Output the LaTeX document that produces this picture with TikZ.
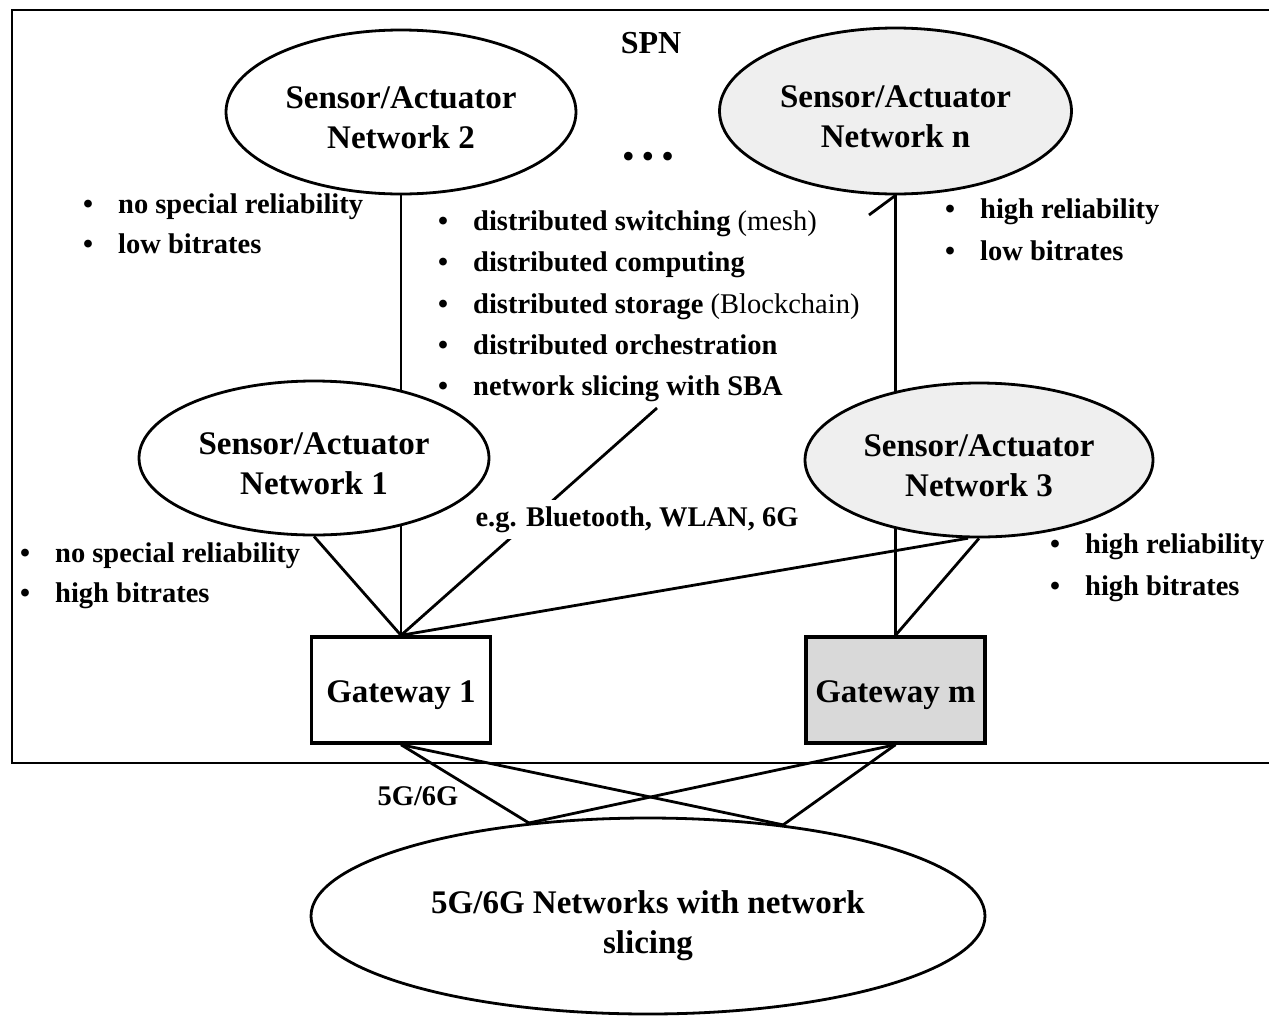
\documentclass[tikz,border=0pt]{standalone}
\usepackage{fontspec}
\setmainfont{Liberation Serif}
\usetikzlibrary{shapes.geometric,backgrounds}

\definecolor{netgray}{HTML}{EFEFEF}
\definecolor{gwgray}{HTML}{D9D9D9}
% bullet followed by a fixed indent
\newcommand\bul{\makebox[35pt][l]{•}}
% invisible strut that lowers a node's text a little
\newcommand\lowr[1]{\rule{0pt}{#1}}

\begin{document}
\begin{tikzpicture}[x=1pt,y=-1pt,
  net/.style={ellipse,draw,line width=2.8pt,inner sep=0pt,align=center,
    font=\fontsize{33}{40}\selectfont\bfseries},
  gw/.style={rectangle,draw,line width=3.4pt,minimum width=179pt,minimum height=106pt,
    inner sep=0pt,font=\fontsize{33}{40}\selectfont\bfseries},
  lbl/.style={anchor=base,inner sep=0pt,font=\fontsize{28.5}{41}\selectfont\bfseries},
  item/.style={anchor=base west,inner sep=0pt,font=\fontsize{28.5}{41}\selectfont\bfseries},
  link/.style={line width=2.8pt},
  frame/.style={line width=2.4pt}]

\useasboundingbox (0,0) rectangle (1269,1018);

% sensor/actuator networks
\node[net,fill=white,minimum width=350pt,minimum height=164pt] (e2) at (401,112) {\lowr{34pt}Sensor/Actuator\\Network 2};
\node[net,fill=netgray,minimum width=352pt,minimum height=166pt] (en) at (895.5,111) {\lowr{34pt}Sensor/Actuator\\Network n};
\node[net,fill=white,minimum width=350pt,minimum height=154pt] (e1) at (314,458) {\lowr{34pt}Sensor/Actuator\\Network 1};
\node[net,fill=netgray,minimum width=348pt,minimum height=154pt] (e3) at (979,460) {\lowr{34pt}Sensor/Actuator\\Network 3};

% gateways
\node[gw,fill=white] (g1) at (401,690) {\lowr{32pt}Gateway 1};
\node[gw,fill=gwgray] (gm) at (895.5,690) {\lowr{32pt}Gateway m};

% mobile network
\node[net,fill=white,minimum width=674pt,minimum height=196pt] (bot) at (648,916) {\lowr{43pt}5G/6G Networks with network\\slicing};

% labels
\node[lbl,font=\fontsize{32}{40}\selectfont\bfseries] (spn) at (651,53) {SPN};
\node[inner sep=0pt,font=\fontsize{36}{36}\selectfont] (dots) at (648,160) {•\hspace{7pt}•\hspace{7pt}•};
\node[lbl,fill=white,inner xsep=2pt,inner ysep=6.5pt] (wl) at (637,526) {e.g. Bluetooth, WLAN, 6G};
\node[lbl] (g5) at (418,805) {5G/6G};

% property lists
\node[item] (a1) at (83,213) {\bul no special reliability};
\node[item] (a2) at (83,253) {\bul low bitrates};

\node[item] (b1) at (438,230) {\bul distributed switching {\mdseries (mesh)}};
\node[item] (b2) at (438,271) {\bul distributed computing};
\node[item] (b3) at (438,313) {\bul distributed storage {\mdseries (Blockchain)}};
\node[item] (b4) at (438,354) {\bul distributed orchestration};
\node[item] (b5) at (438,395) {\bul network slicing with SBA};

\node[item] (c1) at (945,218) {\bul high reliability};
\node[item] (c2) at (945,260) {\bul low bitrates};

\node[item] (d1) at (20,562) {\bul no special reliability};
\node[item] (d2) at (20,602) {\bul high bitrates};

\node[item] (f1) at (1050,553) {\bul high reliability};
\node[item] (f2) at (1050,595) {\bul high bitrates};

\coordinate (wtop) at (657,408);
\coordinate (stray) at (869,215);

\begin{pgfonlayer}{background}
  \draw[frame] (12,10) rectangle (1280,763);
  \draw[link] (e2.south) -- (e2.south |- e1.center);
  \draw[link] (g1.north) -- (g1.north |- e1.center);
  \draw[link] (e1.south) -- (g1.north);
  \draw[link] (g1.north) -- (wtop);
  \draw[link] (g1.north) -- (e3.262);
  \draw[link] (en.south) -- (en.south |- e3.center);
  \draw[link] (gm.north) -- (gm.north |- e3.center);
  \draw[link] (e3.south) -- (gm.north);
  \draw[link] (en.south) -- (stray);
  \draw[link] (g1.south) -- (bot.142.5);
  \draw[link] (g1.south) -- (bot.34.7);
  \draw[link] (gm.south) -- (bot.142.5);
  \draw[link] (gm.south) -- (bot.34.7);
\end{pgfonlayer}
\end{tikzpicture}
\end{document}
